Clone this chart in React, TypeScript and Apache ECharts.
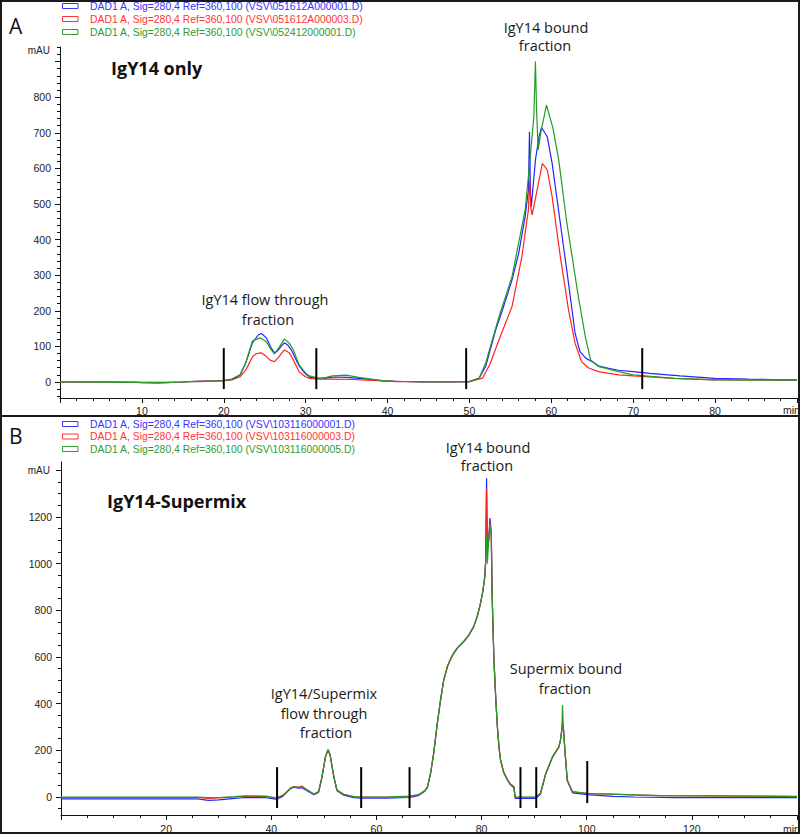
import React, { useEffect, useRef } from "react";
import * as echarts from "echarts";

type Pt = [number, number];

// ---------- Panel A data (time in min, signal in mAU) ----------
const legendA = [
  "DAD1 A, Sig=280,4 Ref=360,100 (VSV\\051612A000001.D)",
  "DAD1 A, Sig=280,4 Ref=360,100 (VSV\\051612A000003.D)",
  "DAD1 A, Sig=280,4 Ref=360,100 (VSV\\052412000001.D)",
];

const blueA: Pt[] = [
  [0, 0], [6, 0], [9, -1], [13, -1], [15, 0], [16.5, 2], [19, 3], [20, 4], [21, 8], [22, 20],
  [22.7, 55], [23.5, 110], [24.2, 132], [24.6, 136], [25.2, 124], [25.8, 95], [26.2, 82], [26.6, 88],
  [27, 100], [27.4, 110], [27.8, 104], [28.3, 88], [29.2, 45], [30, 22], [30.5, 13], [31.3, 10],
  [32.5, 11], [33.5, 14], [35, 13], [36.5, 10], [38, 7], [39.5, 3], [41, 2], [44, 0], [48, 0],
  [50, 1], [51.2, 11], [52, 45], [53.2, 146], [54, 200], [55.2, 287], [56, 360], [56.8, 464],
  [57.2, 539], [57.33, 703], [57.45, 530], [57.55, 492], [58.06, 624], [58.5, 690], [58.8, 715],
  [59.2, 700], [59.5, 689], [60.1, 614], [61.1, 446], [62.1, 277], [62.9, 137], [63.5, 85],
  [64.2, 67], [65, 57], [65.8, 45], [67, 38], [68.2, 33], [70, 29], [72, 24], [75.7, 17],
  [80, 10], [84, 8], [87, 7], [87.5, 5], [90, 5],
];

const redA: Pt[] = [
  [0, 0], [9, 0], [10, -2], [12, -3], [13, -2], [15, 0], [16.5, 2], [19, 3], [20, 4], [21, 6],
  [22, 15], [22.7, 34], [23.5, 71], [24, 80], [24.55, 82], [25.2, 72], [25.6, 62], [26.2, 57],
  [26.7, 70], [27.4, 90], [28, 82], [28.5, 62], [29.2, 29], [30, 14], [30.5, 10], [31.7, 8],
  [33.3, 8], [35.8, 7], [37.5, 5], [39.4, 3], [41, 1], [44, 1], [47, 0], [50, 1], [51.6, 11],
  [52.5, 50], [53.6, 118], [55.2, 212], [56.4, 352], [57.2, 483], [57.35, 565], [57.5, 490],
  [57.65, 469], [58.26, 539], [58.9, 614], [59.5, 596], [60.1, 520], [61.1, 352], [62.1, 202],
  [62.9, 109], [63.7, 57], [64.5, 40], [65.75, 29], [68.2, 20], [70, 17], [75, 10], [80, 6],
  [90, 6],
];

const greenA: Pt[] = [
  [0, 0], [9, -1], [10, -2], [13, -2], [15, 0], [17, 1], [20, 4], [21, 7], [22, 20], [22.7, 55],
  [23.5, 115], [24.4, 124], [25.2, 113], [25.8, 90], [26.2, 79], [26.7, 95], [27.4, 121],
  [28, 109], [28.5, 90], [29.2, 48], [30, 25], [30.45, 17], [31.7, 10], [32.5, 13], [33.3, 17],
  [34.9, 19], [36.5, 13], [38, 8], [39.4, 4], [41, 2], [45, 0], [50, 1], [51.2, 11], [52, 55],
  [53.6, 183], [55.2, 296], [56.8, 483], [57.2, 577], [57.86, 745], [58.06, 900], [58.2, 760],
  [58.4, 652], [58.7, 699], [59.4, 778], [60.2, 713], [60.9, 624], [61.9, 446], [63.3, 240],
  [64.15, 127], [64.8, 62], [65.8, 43], [66.6, 39], [68.2, 29], [70, 20], [75, 10], [80, 6],
  [90, 5],
];

const fractionA = [20, 31.3, 49.6, 71.1];
const fractionALow = [-20, -20, -20, -20];
const fractionAHigh = [95, 95, 95, 95];

const yLabelsA = [0, 100, 200, 300, 400, 500, 600, 700, 800];
const yTicksA = [0, 100, 200, 300, 400, 500, 600, 700, 800, 900];

// ---------- Panel B data ----------
const legendB = [
  "DAD1 A, Sig=280,4 Ref=360,100 (VSV\\103116000001.D)",
  "DAD1 A, Sig=280,4 Ref=360,100 (VSV\\103116000003.D)",
  "DAD1 A, Sig=280,4 Ref=360,100 (VSV\\103116000005.D)",
];

const blueB: Pt[] = [
  [0, -8], [10, -8], [26, -8], [28, -14], [30, -12], [33, -6], [35, -2], [39, -3], [40, -6],
  [41, -10], [42.3, 5], [43.6, 35], [44.25, 42], [45.2, 38], [45.8, 40], [46.8, 27], [48.1, 10],
  [49, 20], [49.65, 85], [50.3, 171], [50.8, 202], [51.2, 178], [51.9, 85], [52.5, 27],
  [53.8, 8], [55.7, -3], [57.1, -5], [62, -5], [66.3, -2], [68, 6], [69.2, 25], [69.7, 40],
  [70.3, 100], [70.9, 187], [71.5, 300], [72.2, 415], [72.8, 500], [73.5, 558], [74.2, 595],
  [74.7, 615], [75.5, 640], [76.6, 665], [77.5, 690], [78.5, 729], [79.2, 775], [79.8, 829],
  [80.2, 875], [80.6, 940], [80.76, 1000], [80.95, 1365], [81.1, 1070], [81.3, 1090],
  [81.6, 1195], [81.85, 1130], [82.0, 872], [82.35, 587], [82.7, 420], [83.0, 301], [83.3, 215],
  [83.6, 158], [84.2, 105], [84.9, 73], [85.5, 52], [86.15, 40], [86.4, -6], [90.3, -6],
  [91.2, 12], [92.2, 98], [93.5, 171], [94.7, 214], [95.0, 242], [95.3, 290], [95.4, 318],
  [95.55, 299], [95.9, 185], [96.3, 70], [97.3, 18], [100.1, 10], [105, 3], [109, 0], [117, -3],
  [140, -3],
];

const redB: Pt[] = [
  [0, -2], [10, -2], [26, -2], [28, -6], [30, -4], [33, 0], [35, 3], [39, 2], [40, -2], [41, -5],
  [42.3, 8], [43.6, 37], [44.25, 45], [45.2, 42], [45.8, 47], [46.8, 31], [48.1, 13], [49, 22],
  [49.65, 86], [50.3, 172], [50.8, 203], [51.2, 179], [51.9, 86], [52.5, 29], [53.8, 11],
  [55.7, 1], [57.1, 0], [62, 0], [66.3, 3], [68, 9], [69.2, 27], [69.7, 42], [70.3, 102],
  [70.9, 188], [71.5, 302], [72.2, 416], [72.8, 501], [73.5, 559], [74.2, 596], [74.7, 616],
  [75.5, 641], [76.6, 666], [77.5, 691], [78.5, 730], [79.2, 776], [79.8, 830], [80.2, 876],
  [80.6, 941], [80.76, 1000], [80.95, 1320], [81.1, 1060], [81.3, 1085], [81.6, 1175],
  [81.85, 1125], [82.0, 872], [82.35, 590], [82.7, 424], [83.0, 305], [83.3, 219], [83.6, 162],
  [84.2, 108], [84.9, 76], [85.5, 56], [86.15, 44], [86.4, -1], [90.3, -1], [91.2, 15],
  [92.2, 100], [93.5, 172], [94.7, 215], [95.0, 243], [95.3, 292], [95.4, 318], [95.55, 300],
  [95.9, 187], [96.3, 72], [97.3, 22], [100.1, 15], [109, 9], [114, 6], [131, 4], [140, 2],
];

const greenB: Pt[] = [
  [0, 0], [10, 0], [26, 0], [28, -3], [30, -2], [33, 2], [35, 5], [39, 4], [40, 0], [41, -4],
  [42.3, 9], [43.6, 37], [44.25, 44], [45.2, 40], [45.8, 44], [46.8, 30], [48.1, 13], [49, 23],
  [49.65, 87], [50.3, 173], [50.8, 204], [51.2, 180], [51.9, 87], [52.5, 30], [53.8, 12],
  [55.7, 2], [57.1, 0], [62, 0], [66.3, 4], [68, 10], [69.2, 28], [69.7, 43], [70.3, 103],
  [70.9, 189], [71.5, 303], [72.2, 417], [72.8, 502], [73.5, 560], [74.2, 597], [74.7, 617],
  [75.5, 642], [76.6, 667], [77.5, 692], [78.5, 731], [79.2, 777], [79.8, 831], [80.2, 877],
  [80.6, 942], [80.76, 1000], [80.95, 1120], [81.1, 1000], [81.3, 1080], [81.6, 1165],
  [81.85, 1120], [82.0, 872], [82.35, 589], [82.7, 422], [83.0, 303], [83.3, 217], [83.6, 160],
  [84.2, 106], [84.9, 74], [85.5, 55], [86.15, 44], [86.4, 0], [90.3, 0], [91.2, 16],
  [92.2, 101], [93.5, 173], [94.7, 216], [95.0, 244], [95.3, 300], [95.4, 394], [95.5, 330],
  [95.55, 301], [95.9, 187], [96.3, 73], [97.3, 23], [100.1, 16], [109, 9], [114, 6],
  [140, 3],
];

const fractionB = [41.1, 57.1, 66.3, 87.4, 90.4, 100.1];
const fractionBLow = [-47, -47, -47, -47, -47, -26];
const fractionBHigh = [128, 128, 128, 128, 128, 154];

const yLabelsB = [0, 200, 400, 600, 800, 1000, 1200];
const yTicksB = [0, 200, 400, 600, 800, 1000, 1200, 1400];

// ---------- Annotations ----------
const annotA = [
  { lines: ["IgY14 flow through", "fraction"], xs: [265, 268], ys: [299, 319] },
  { lines: ["IgY14 bound", "fraction"], xs: [546, 545], ys: [27, 45] },
];
const annotB = [
  { lines: ["IgY14 bound", "fraction"], xs: [488, 487], ys: [447, 465] },
  { lines: ["IgY14/Supermix", "flow through", "fraction"], xs: [324, 324, 326], ys: [693, 713, 732] },
  { lines: ["Supermix bound", "fraction"], xs: [566, 565], ys: [668, 688] },
];

const COLORS = ["#2424ff", "#ff2424", "#249b24"];
const LEGEND_COLORS = ["#3535ff", "#ff3535", "#339a33"];
const AXIS_FONT = "Liberation Sans";
const ANNOT_FONT = "'Open Sans'";

function minorList(min: number, max: number, step: number): number[] {
  const out: number[] = [];
  for (let v = Math.ceil(min / step) * step; v <= max; v += step) out.push(v);
  return out;
}

export default function App() {
  const ref = useRef<HTMLDivElement>(null);

  useEffect(() => {
    if (!ref.current) return;
    const chart = echarts.init(ref.current, undefined, { renderer: "svg" });

    const yMinA = -45, yMaxA = 941;
    const yMinB = -77, yMaxB = 1435;

    const axisLabelStyle = { fontSize: 10.5, color: "#222", fontFamily: AXIS_FONT };

    const xAxisCommon = (gridIndex: number, max: number, interval: number, split: number, margin: number) => ({
      gridIndex,
      type: "value",
      min: 0,
      max,
      interval,
      axisLine: { show: true, onZero: false, lineStyle: { color: "#111", width: 1 } },
      axisTick: { show: true, length: 5, lineStyle: { color: "#111" } },
      minorTick: { show: true, splitNumber: split, length: 3, lineStyle: { color: "#111" } },
      splitLine: { show: false },
      minorSplitLine: { show: false },
      axisLabel: {
        ...axisLabelStyle,
        margin,
        formatter: (v: number) => (v === 0 || v === max ? "" : String(v)),
      },
    });

    const yMain = (gridIndex: number, min: number, max: number, labels: number[], ticks: number[]) => ({
      gridIndex,
      type: "value",
      min,
      max,
      axisLine: { show: true, onZero: false, lineStyle: { color: "#111", width: 1 } },
      axisTick: { show: true, length: 5, customValues: ticks, lineStyle: { color: "#111" } },
      axisLabel: {
        ...axisLabelStyle,
        margin: 9,
        customValues: labels,
        formatter: (v: number) => String(Math.round(v)),
      },
      splitLine: { show: false },
    });
    const yMinor = (gridIndex: number, min: number, max: number, step: number) => ({
      gridIndex,
      type: "value",
      min,
      max,
      position: "left",
      axisLine: { show: false },
      axisTick: { show: true, length: 3, customValues: minorList(min, max, step), lineStyle: { color: "#111" } },
      axisLabel: { show: false },
      splitLine: { show: false },
    });

    const traceSeries = (data: Pt[], idx: number, name: string, xi: number, yi: number) => ({
      type: "line",
      name,
      xAxisIndex: xi,
      yAxisIndex: yi,
      data,
      showSymbol: false,
      symbol: "none",
      silent: true,
      lineStyle: { color: COLORS[idx], width: 1.2 },
      z: 2 + idx,
    });

    const markerSeries = (xs: number[], lows: number[], highs: number[], xi: number, yi: number) =>
      xs.map((x, i) => ({
        type: "line",
        xAxisIndex: xi,
        yAxisIndex: yi,
        data: [
          [x, lows[i]],
          [x, highs[i]],
        ],
        showSymbol: false,
        symbol: "none",
        silent: true,
        lineStyle: { color: "#000", width: 2 },
        z: 10,
      }));

    const graphics: any[] = [];
    // frame
    graphics.push({
      type: "rect",
      shape: { x: 1, y: 1, width: 798, height: 832 },
      style: { fill: "none", stroke: "#1a1a1a", lineWidth: 2 },
      z: 100,
    });
    graphics.push({
      type: "line",
      shape: { x1: 0, y1: 416, x2: 800, y2: 416 },
      style: { stroke: "#1a1a1a", lineWidth: 2 },
      z: 100,
    });
    const legendBlock = (texts: string[], ys: number[]) => {
      texts.forEach((t, i) => {
        graphics.push({
          type: "rect",
          shape: { x: 62.5, y: ys[i] - 2.5, width: 15.5, height: 5 },
          style: { fill: "none", stroke: LEGEND_COLORS[i], lineWidth: 1 },
        });
        graphics.push({
          type: "text",
          style: {
            text: t,
            x: 90,
            y: ys[i],
            font: `10.4px ${AXIS_FONT}`,
            fill: LEGEND_COLORS[i],
            textAlign: "left",
            textVerticalAlign: "middle",
          },
        });
      });
    };
    legendBlock(legendA, [6, 19, 32]);
    legendBlock(legendB, [424, 436.5, 449]);

    const txt = (text: string, x: number, y: number, font: string, align = "left", fill = "#111") =>
      graphics.push({
        type: "text",
        style: { text, x, y, font, fill, textAlign: align, textVerticalAlign: "middle" },
      });

    txt("A", 9, 26, `21px ${ANNOT_FONT}`);
    txt("B", 9, 436, `21px ${ANNOT_FONT}`);
    txt("IgY14 only", 111, 68, `bold 18px ${ANNOT_FONT}`);
    txt("IgY14-Supermix", 107, 501, `bold 18px ${ANNOT_FONT}`);
    txt("mAU", 50, 50, `10px ${AXIS_FONT}`, "right", "#222");
    txt("mAU", 50, 470, `10px ${AXIS_FONT}`, "right", "#222");
    txt("min", 783, 410, `10.5px ${AXIS_FONT}`, "left", "#222");
    txt("min", 783, 829, `10.5px ${AXIS_FONT}`, "left", "#222");

    [...annotA, ...annotB].forEach((a) =>
      a.lines.forEach((l, i) => txt(l, a.xs[i], a.ys[i], `14.5px ${ANNOT_FONT}`, "center", "#1a1a1a"))
    );

    const option: any = {
      animation: false,
      backgroundColor: "#fff",
      grid: [
        { left: 60, top: 47, width: 739, height: 351, containLabel: false },
        { left: 61, top: 462, width: 737, height: 353, containLabel: false },
      ],
      xAxis: [xAxisCommon(0, 90, 10, 5, 7), xAxisCommon(1, 140, 20, 4, 8)],
      yAxis: [
        yMain(0, yMinA, yMaxA, yLabelsA, yTicksA),
        yMinor(0, yMinA, yMaxA, 20),
        yMain(1, yMinB, yMaxB, yLabelsB, yTicksB),
        yMinor(1, yMinB, yMaxB, 50),
      ],
      series: [
        traceSeries(blueA, 0, legendA[0], 0, 0),
        traceSeries(redA, 1, legendA[1], 0, 0),
        traceSeries(greenA, 2, legendA[2], 0, 0),
        ...markerSeries(fractionA, fractionALow, fractionAHigh, 0, 0),
        traceSeries(blueB, 0, legendB[0], 1, 2),
        traceSeries(redB, 1, legendB[1], 1, 2),
        traceSeries(greenB, 2, legendB[2], 1, 2),
        ...markerSeries(fractionB, fractionBLow, fractionBHigh, 1, 2),
      ],
      graphic: graphics,
    };

    chart.setOption(option);
    return () => chart.dispose();
  }, []);

  return (
    <div
      ref={ref}
      style={{ position: "absolute", left: 0, top: 0, width: 800, height: 834, background: "#fff" }}
    />
  );
}
